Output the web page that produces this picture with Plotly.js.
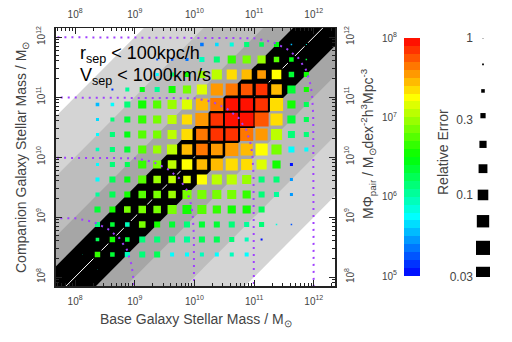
<!DOCTYPE html>
<html><head><meta charset="utf-8">
<script src="https://cdn.plot.ly/plotly-3.0.1.min.js"></script>
<style>html,body{margin:0;padding:0;background:#fff}#chart{width:512px;height:342px}</style>
</head><body><div id="chart"></div>
<script>
// log10 bin centres
const baseBins = [8.125, 8.375, 8.625, 8.875, 9.125, 9.375, 9.625, 9.875, 10.125, 10.375, 10.625, 10.875, 11.125, 11.375, 11.625, 11.875];
const compBins = [11.875, 11.625, 11.375, 11.125, 10.875, 10.625, 10.375, 10.125, 9.875, 9.625, 9.375, 9.125, 8.875, 8.625, 8.375, 8.125];
const n = null;
// log10 of M*Phi_pair, rows = compBins, cols = baseBins
const logPhi = [
  [n,n,n,n,n,n,n,n, 5.3,5.6,5.8,6.15,6.2,6.4,5.5,5.8],
  [n,n,n,n,n, 5.25,5.2,5.3,5.9,6.15,6.65,6.85,6.95,6.7,6.45,6.3],
  [n,n,n,n,n, 5.75,6.1,6.5,6.95,7.06,7.35,7.44,7.55,7.25,6.35,6.5],
  [n,n, 5.1,6.05,6.4,6.05,6.55,6.88,7.16,7.53,7.62,7.77,7.81,7.44,6.3,6.5],
  [n, 5.5,5.75,6.15,6.5,6.75,6.97,7.16,7.48,7.62,7.9,7.95,7.85,7.34,6.55,6.2],
  [n, 5.65,6.1,6.35,6.6,6.88,7.08,7.34,7.58,7.85,8.0,7.95,7.77,7.34,6.3,6.2],
  [n, 5.75,6.12,6.45,6.7,6.88,7.06,7.34,7.62,7.85,7.81,7.67,7.58,7.06,6.1,6.1],
  [n, 5.94,6.12,6.35,6.78,6.97,7.06,7.4,7.62,7.58,7.53,7.44,7.25,6.88,5.75,5.75],
  [n, 5.75,6.12,6.2,6.6,6.88,7.06,7.25,7.44,7.4,7.34,7.36,7.16,6.5,5.0,n],
  [n, 5.75,6.28,6.4,6.7,6.97,7.06,7.16,7.2,7.06,7.02,6.97,6.12,6.1,5.4,n],
  [n, 6.05,6.28,6.5,6.78,6.88,6.98,6.88,6.88,6.88,6.83,6.65,6.12,6.05,5.45,n],
  [n, 6.31,6.5,6.88,6.83,6.88,6.83,6.5,6.78,6.6,6.5,6.5,6.22,n,n,n],
  [n, 6.1,6.31,5.94,6.88,6.5,6.31,6.1,6.31,6.31,6.12,6.05,6.1,5.8,5.2,n],
  [n, 6.2,6.55,6.31,6.1,6.12,6.18,6.05,6.2,6.25,6.12,5.94,5.0,n,n,n],
  [5.94,6.6,6.35,5.94,6.1,6.2,5.75,5.75,5.94,5.75,5.9,5.75,n,n,n,n],
  [n, 5.85,n,n,n,n,n,n,n,n,n,n,n,n,n,n]
];
// relative error of each cell
const relErr = [
  [n,n,n,n,n,n,n,n, 0.46,0.46,0.42,0.33,0.37,0.33,0.52,0.58],
  [n,n,n,n,n, 0.65,0.58,0.52,0.33,0.27,0.17,0.17,0.17,0.22,0.27,0.52],
  [n,n,n,n,n, 0.52,0.42,0.33,0.22,0.11,0.11,0.11,0.11,0.09,0.22,0.33],
  [n,n, 0.65,0.42,0.33,0.33,0.22,0.17,0.11,0.072,0.072,0.058,0.058,0.072,0.17,0.33],
  [n, 0.46,0.46,0.27,0.17,0.17,0.14,0.11,0.072,0.058,0.047,0.047,0.047,0.058,0.17,0.33],
  [n, 0.52,0.42,0.27,0.17,0.17,0.14,0.11,0.058,0.047,0.037,0.037,0.047,0.072,0.17,0.33],
  [n, 0.52,0.33,0.27,0.17,0.17,0.14,0.09,0.058,0.047,0.047,0.058,0.072,0.09,0.22,0.33],
  [n, 0.46,0.33,0.27,0.17,0.17,0.11,0.072,0.058,0.058,0.058,0.072,0.072,0.11,0.27,0.42],
  [n, 0.52,0.33,0.33,0.17,0.17,0.11,0.072,0.072,0.072,0.072,0.09,0.11,0.17,0.52,n],
  [n, 0.42,0.27,0.27,0.17,0.14,0.14,0.14,0.11,0.11,0.11,0.14,0.27,0.27,0.52,n],
  [n, 0.42,0.27,0.27,0.14,0.14,0.14,0.14,0.14,0.14,0.14,0.17,0.27,0.33,0.52,n],
  [n, 0.27,0.27,0.17,0.14,0.14,0.14,0.14,0.14,0.17,0.17,0.17,0.27,n,n,n],
  [n, 0.33,0.27,0.27,0.17,0.27,0.27,0.27,0.27,0.27,0.27,0.33,0.33,0.72,0.72,n],
  [n, 0.33,0.22,0.27,0.27,0.27,0.27,0.27,0.27,0.27,0.33,0.42,0.65,n,n,n],
  [0.65,0.22,0.27,0.33,0.27,0.27,0.42,0.42,0.42,0.42,0.42,0.42,n,n,n,n],
  [n, 0.65,n,n,n,n,n,n,n,n,n,n,n,n,n,n]
];
// mass-ratio bands (dex from 1:1) and their fills
const bandDex = [3, 2, 1, 0.5];
const bandColors = ['#d4d4d4', '#bdbdbd', '#a6a6a6', '#000000'];
// constant total-mass limits (log10) and the curve shape
const totalMassLimits = [9, 10, 11, 12];
const limitDx = [-5, -1.0, -0.7, -0.45, -0.26, -0.13, -0.06, -0.03, -0.01, 0];
const limitDy = [0, -0.02, -0.08, -0.2, -0.35, -0.55, -0.78, -0.95, -1.3, -5];
const axisDecades = [8, 9, 10, 11, 12];
const colorbarDecades = [5, 6, 7, 8];
const legendErrors = [1, 0.68, 0.46, 0.32, 0.21, 0.147, 0.1, 0.068, 0.046, 0.031];
const legendTicks = [1, 0.3, 0.1, 0.03];
const legendTickText = ['1', '0.3', '0.1', '0.03'];

const W = 512, H = 342;
const PL = 55.7, PR = 335, PT = 28, PB = 286;
const xRange = [7.675, 12.355], yRange = [7.85, 12.15];
const px = v => v / W, py = v => 1 - v / H;
const FONT = 'Liberation Sans, Arial, Helvetica, sans-serif';
const TXT = '#444';

function hsv(h) {
  const c = 1, x = c * (1 - Math.abs((h / 60) % 2 - 1));
  let r, g, b;
  if (h < 60) [r, g, b] = [c, x, 0];
  else if (h < 120) [r, g, b] = [x, c, 0];
  else if (h < 180) [r, g, b] = [0, c, x];
  else [r, g, b] = [0, x, c];
  return 'rgb(' + Math.round(r * 255) + ',' + Math.round(g * 255) + ',' + Math.round(b * 255) + ')';
}
const NSTEP = 30;
const colorscale = [];
for (let i = 0; i < NSTEP; i++) {
  const c = hsv(240 * (1 - (i + 0.5) / NSTEP));
  colorscale.push([i / NSTEP, c], [(i + 1) / NSTEP, c]);
}
const errSize = e => Math.max(1, 16 * Math.log10(e) / Math.log10(0.031));

const traces = [];
// bands
bandDex.forEach((d, i) => {
  const lx = [6, 14, 14, 6, 6], ly = [6 - d, 14 - d, 14 + d, 6 + d, 6 - d];
  traces.push({type: 'scatter', mode: 'lines', x: lx.map(v => Math.pow(10, v)), y: ly.map(v => Math.pow(10, v)),
    fill: 'toself', fillcolor: bandColors[i], line: {width: 0, color: bandColors[i]}, hoverinfo: 'skip', showlegend: false});
});
// 1:1 line
traces.push({type: 'scatter', mode: 'lines', x: [1e6, 1e14], y: [1e6, 1e14], line: {color: '#fff', width: 1}, hoverinfo: 'skip', showlegend: false});
// cells
const cx = [], cy = [], cc = [], cs = [], cw = [];
compBins.forEach((r, ri) => baseBins.forEach((c, ci) => {
  const v = logPhi[ri][ci];
  if (v === null) return;
  cx.push(Math.pow(10, c)); cy.push(Math.pow(10, r)); cc.push(v);
  cs.push(errSize(relErr[ri][ci]));
  cw.push(Math.abs(c - r) < 0.3 ? 1.5 : 0);
}));
traces.push({type: 'scatter', mode: 'markers', x: cx, y: cy, hoverinfo: 'skip', showlegend: false,
  marker: {symbol: 'square', size: cs, opacity: 1, color: cc, colorscale: colorscale, cmin: 5, cmax: 8, showscale: false,
    line: {color: '#000', width: cw}}});
// total mass limits
totalMassLimits.forEach(Lm => {
  traces.push({type: 'scatter', mode: 'lines', x: limitDx.map(d => Math.pow(10, Lm + d)), y: limitDy.map(d => Math.pow(10, Lm + d)),
    line: {color: '#a040ff', width: 2, dash: '2px,5px'}, hoverinfo: 'skip', showlegend: false});
});
// dummy on mirror axes
traces.push({type: 'scatter', mode: 'markers', x: [1e10], y: [1e10], xaxis: 'x2', yaxis: 'y2', marker: {opacity: 0}, hoverinfo: 'skip', showlegend: false});
// colour bar
const cbY = [];
for (let i = 0; i < NSTEP; i++) cbY.push(5 + (i + 0.5) * 3 / NSTEP);
traces.push({type: 'heatmap', x: [0], y: cbY, z: cbY.map(v => [v]), xaxis: 'x3', yaxis: 'y3',
  colorscale: colorscale, zmin: 5, zmax: 8, showscale: false, hoverinfo: 'skip'});
// size legend
traces.push({type: 'scatter', mode: 'markers', x: legendErrors.map(() => 0.5), y: legendErrors, xaxis: 'x4', yaxis: 'y4',
  marker: {symbol: 'square', color: '#000', opacity: 1, size: legendErrors.map(errSize), line: {width: 0}}, hoverinfo: 'skip', showlegend: false});

const minors = [];
for (let d = 7; d <= 12; d++) for (let k = 2; k <= 9; k++) minors.push(k * Math.pow(10, d));
const tv = axisDecades.map(d => Math.pow(10, d));
const tt = axisDecades.map(d => '10<sup>' + d + '</sup>');
const axBase = {type: 'log', showgrid: false, zeroline: false, showline: true, linecolor: '#222', linewidth: 1.5,
  ticks: 'inside', ticklen: 6, tickwidth: 1, tickcolor: '#222', tickmode: 'array', tickvals: tv, ticktext: tt,
  tickfont: {size: 10, color: TXT, family: FONT}, ticklabelstandoff: 5,
  minor: {tickmode: 'array', tickvals: minors, ticks: 'inside', ticklen: 3, tickcolor: '#222', showgrid: false}};

const layout = {
  width: W, height: H, margin: {l: 0, r: 0, t: 0, b: 0}, paper_bgcolor: '#fff', plot_bgcolor: '#fff',
  showlegend: false, font: {family: FONT, color: TXT},
  xaxis: Object.assign({}, axBase, {range: xRange, domain: [px(PL), px(PR)], anchor: 'y', side: 'bottom'}),
  yaxis: Object.assign({}, axBase, {range: yRange, domain: [py(PB), py(PT)], anchor: 'x', side: 'left', tickangle: -90}),
  xaxis2: Object.assign({}, axBase, {range: xRange, domain: [px(PL), px(PR)], anchor: 'y2', side: 'top', overlaying: 'x'}),
  yaxis2: Object.assign({}, axBase, {range: yRange, domain: [py(PB), py(PT)], anchor: 'x2', side: 'right', overlaying: 'y', tickangle: -90}),
  xaxis3: {domain: [px(404), px(420)], range: [-0.5, 0.5], visible: false, anchor: 'y3'},
  yaxis3: {domain: [py(276), py(38)], range: [5, 8], anchor: 'x3', side: 'left', showgrid: false, zeroline: false, showline: false,
    ticks: '', tickmode: 'array', tickvals: colorbarDecades, ticktext: colorbarDecades.map(d => '10<sup>' + d + '</sup>'),
    tickfont: {size: 10, color: TXT, family: FONT}, ticklabelstandoff: 6},
  xaxis4: {domain: [px(476), px(490)], range: [0, 1], visible: false, anchor: 'y4'},
  yaxis4: {type: 'log', domain: [py(277), py(38)], range: [Math.log10(0.03), 0], anchor: 'x4', side: 'left', showgrid: false,
    zeroline: false, showline: false, ticks: '', tickmode: 'array', tickvals: legendTicks, ticktext: legendTickText,
    tickfont: {size: 12, color: TXT, family: FONT}, ticklabelstandoff: 2},
  annotations: [
    {text: 'Base Galaxy Stellar Mass / M<sub>⊙</sub>', xref: 'paper', yref: 'paper', x: px(196), y: py(320), xanchor: 'center', yanchor: 'middle', showarrow: false, font: {size: 14, color: TXT}},
    {text: 'Companion Galaxy Stellar Mass / M<sub>⊙</sub>', xref: 'paper', yref: 'paper', x: px(22), y: py(158), xanchor: 'center', yanchor: 'middle', textangle: -90, showarrow: false, font: {size: 14, color: TXT}},
    {text: 'MΦ<sub>pair</sub> / M<sub>⊙</sub>dex<sup>-2</sup>h<sup>3</sup>Mpc<sup>-3</sup>', xref: 'paper', yref: 'paper', x: px(368), y: py(144), xanchor: 'center', yanchor: 'middle', textangle: -90, showarrow: false, font: {size: 14, color: TXT}},
    {text: 'Relative Error', xref: 'paper', yref: 'paper', x: px(443), y: py(152), xanchor: 'center', yanchor: 'middle', textangle: -90, showarrow: false, font: {size: 14, color: TXT}},
    {text: 'r<sub>sep</sub> &lt; 100kpc/h', xref: 'paper', yref: 'paper', x: px(78), y: py(54), xanchor: 'left', yanchor: 'middle', showarrow: false, font: {size: 18, color: '#000'}},
    {text: 'V<sub>sep</sub> &lt; 1000km/s', xref: 'paper', yref: 'paper', x: px(78), y: py(76), xanchor: 'left', yanchor: 'middle', showarrow: false, font: {size: 18, color: '#000'}}
  ]
};
Plotly.newPlot('chart', traces, layout, {staticPlot: true, displayModeBar: false});
</script></body></html>
